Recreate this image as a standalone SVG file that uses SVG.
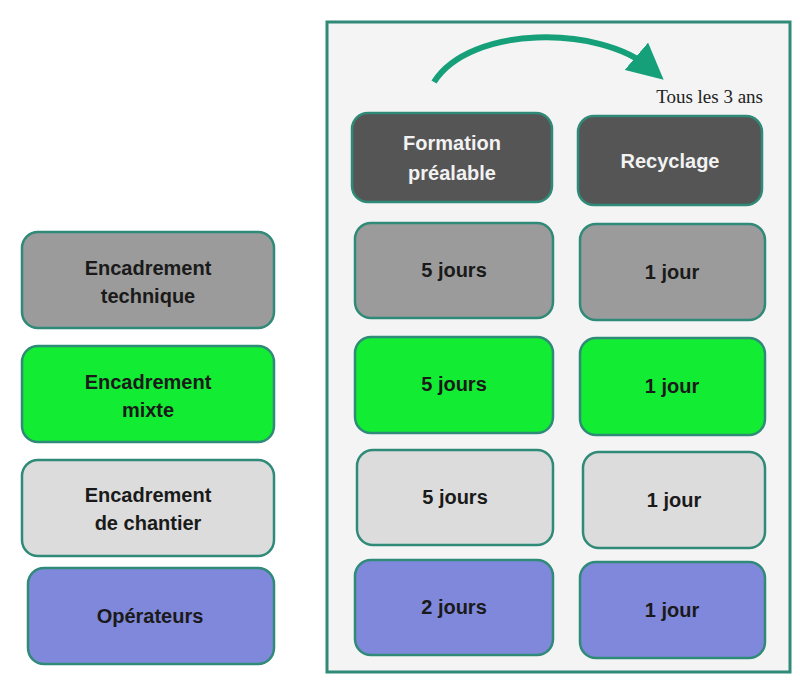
<svg xmlns="http://www.w3.org/2000/svg" width="800" height="680" viewBox="0 0 800 680">
<style>
.b{stroke:#2f8a78;stroke-width:2.5}
.t{font-family:"Liberation Sans",Arial,sans-serif;font-weight:bold;font-size:20px;text-anchor:middle;fill:#1a1a1a}
.w{fill:#f2f2f2}
.g1{fill:#9b9b9b}.g2{fill:#12ec33}.g3{fill:#dcdcdc}.g4{fill:#8088dc}.dk{fill:#555555}
</style>
<defs><marker id="ah" markerWidth="6" markerHeight="6" refX="3" refY="3" orient="auto" markerUnits="strokeWidth"><path d="M0,0 L6,3 L0,6 Z" fill="#16a07a"/></marker></defs>
<rect x="0" y="0" width="800" height="680" fill="#fff"/>
<rect id="panel" x="327" y="22" width="463" height="650" fill="#f4f4f4" stroke="#2f8a78" stroke-width="3"/>
<g id="connectors">
<path d="M434,82 C470,25 600,25 650,68" fill="none" stroke="#16a07a" stroke-width="6" marker-end="url(#ah)"/>
</g>
<text x="763" y="103" font-family="Liberation Serif,serif" font-size="19" text-anchor="end" fill="#222">Tous les 3 ans</text>
<g id="left1"><rect class="b g1" x="22" y="232" width="252" height="96" rx="16"/><text class="t" x="148" y="275">Encadrement</text><text class="t" x="148" y="303">technique</text></g>
<g id="left2"><rect class="b g2" x="22" y="346" width="252" height="96" rx="16"/><text class="t" x="148" y="389">Encadrement</text><text class="t" x="148" y="417">mixte</text></g>
<g id="left3"><rect class="b g3" x="22" y="460" width="252" height="96" rx="16"/><text class="t" x="148" y="502">Encadrement</text><text class="t" x="148" y="530">de chantier</text></g>
<g id="left4"><rect class="b g4" x="28" y="568" width="246" height="96" rx="16"/><text class="t" x="150" y="623">Opérateurs</text></g>
<g id="h1"><rect class="b dk" x="352" y="113" width="200" height="89" rx="16"/><text class="t w" x="452" y="150">Formation</text><text class="t w" x="452" y="180">préalable</text></g>
<g id="h2"><rect class="b dk" x="578" y="116" width="184" height="89" rx="16"/><text class="t w" x="670" y="168">Recyclage</text></g>
<g id="a1"><rect class="b g1" x="355" y="223" width="198" height="95" rx="16"/><text class="t" x="454" y="277">5 jours</text></g>
<g id="a2"><rect class="b g2" x="355" y="337" width="198" height="96" rx="16"/><text class="t" x="454" y="391">5 jours</text></g>
<g id="a3"><rect class="b g3" x="357" y="450" width="196" height="95" rx="16"/><text class="t" x="455" y="504">5 jours</text></g>
<g id="a4"><rect class="b g4" x="355" y="560" width="198" height="95" rx="16"/><text class="t" x="454" y="614">2 jours</text></g>
<g id="b1"><rect class="b g1" x="580" y="224" width="185" height="96" rx="16"/><text class="t" x="672" y="279">1 jour</text></g>
<g id="b2"><rect class="b g2" x="580" y="338" width="185" height="97" rx="16"/><text class="t" x="672" y="393">1 jour</text></g>
<g id="b3"><rect class="b g3" x="583" y="452" width="182" height="96" rx="16"/><text class="t" x="674" y="507">1 jour</text></g>
<g id="b4"><rect class="b g4" x="580" y="562" width="185" height="96" rx="16"/><text class="t" x="672" y="617">1 jour</text></g>
</svg>
